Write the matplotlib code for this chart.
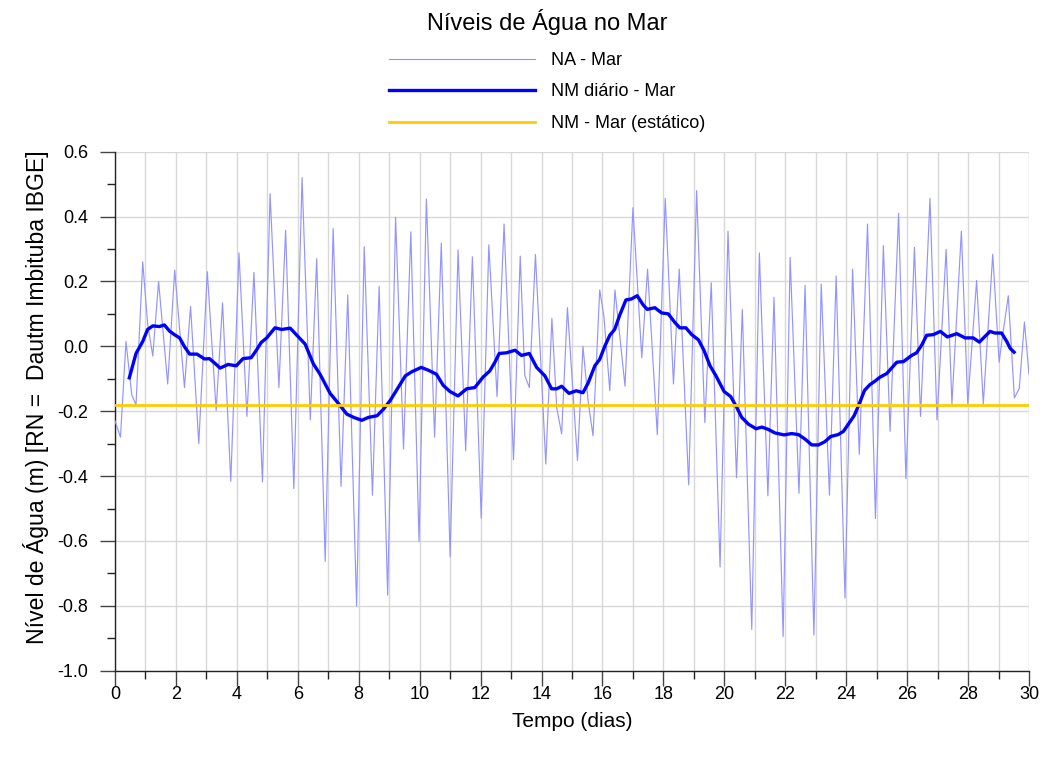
import matplotlib
matplotlib.use("Agg")
import matplotlib.pyplot as plt
from matplotlib.ticker import MultipleLocator, FormatStrFormatter

plt.rcParams['font.family'] = ['Liberation Sans', 'DejaVu Sans']
plt.rcParams['axes.unicode_minus'] = False

# ---- data ----
na_days = [0.00, 0.18, 0.36, 0.55, 0.69, 0.91, 1.07, 1.24, 1.43, 1.73, 1.96, 2.28, 2.48, 2.75,
           3.03, 3.32, 3.53, 3.80, 4.07, 4.33, 4.56, 4.84, 5.09, 5.38, 5.60, 5.87, 6.14, 6.41,
           6.62, 6.90, 7.16, 7.42, 7.64, 7.93, 8.18, 8.45, 8.67, 8.95, 9.21, 9.47, 9.71, 9.98,
           10.22, 10.49, 10.71, 11.00, 11.26, 11.51, 11.73, 12.02, 12.27, 12.54, 12.77, 13.08,
           13.30, 13.45, 13.60, 13.80, 14.14, 14.34, 14.50, 14.66, 14.85, 15.18, 15.36, 15.53,
           15.69, 15.91, 16.05, 16.24, 16.41, 16.74, 17.00, 17.29, 17.48, 17.80, 18.06, 18.33,
           18.52, 18.83, 19.09, 19.36, 19.57, 19.86, 20.12, 20.40, 20.59, 20.90, 21.15, 21.43,
           21.63, 21.93, 22.16, 22.45, 22.65, 22.94, 23.18, 23.45, 23.67, 23.96, 24.21, 24.43,
           24.70, 24.96, 25.22, 25.44, 25.72, 25.96, 26.24, 26.44, 26.75, 26.98, 27.28, 27.47,
           27.78, 27.99, 28.28, 28.50, 28.81, 29.02, 29.10, 29.32, 29.52, 29.68, 29.85, 30.00]
na_values = [-0.23, -0.28, 0.015, -0.15, -0.18, 0.26, 0.07, -0.03, 0.20, -0.116, 0.235, -0.127,
             0.123, -0.30, 0.23, -0.198, 0.134, -0.416, 0.288, -0.216, 0.228, -0.418, 0.47,
             -0.127, 0.358, -0.439, 0.52, -0.227, 0.27, -0.663, 0.363, -0.432, 0.158, -0.80,
             0.307, -0.459, 0.185, -0.767, 0.398, -0.317, 0.353, -0.602, 0.454, -0.28, 0.318,
             -0.648, 0.297, -0.322, 0.276, -0.53, 0.313, -0.155, 0.377, -0.35, 0.278, -0.09,
             -0.127, 0.283, -0.363, 0.086, -0.19, -0.27, 0.119, -0.352, 0.0, -0.17, -0.276,
             0.174, 0.09, -0.137, 0.174, -0.123, 0.427, -0.035, 0.238, -0.272, 0.456, -0.116,
             0.238, -0.427, 0.48, -0.235, 0.196, -0.68, 0.355, -0.405, 0.114, -0.873, 0.288,
             -0.461, 0.151, -0.895, 0.274, -0.453, 0.188, -0.89, 0.192, -0.459, 0.217, -0.776,
             0.238, -0.333, 0.377, -0.531, 0.31, -0.262, 0.41, -0.408, 0.305, -0.216, 0.456,
             -0.227, 0.299, -0.177, 0.355, -0.177, 0.203, -0.177, 0.284, -0.049, 0.01, 0.156,
             -0.159, -0.13, 0.075, -0.086]

nm_days = [0.47, 0.69, 0.91, 1.07, 1.24, 1.46, 1.62, 1.79, 1.95, 2.12, 2.28, 2.45, 2.69, 2.94,
           3.10, 3.30, 3.45, 3.71, 3.98, 4.20, 4.47, 4.64, 4.80, 4.98, 5.25, 5.47, 5.75, 6.02,
           6.24, 6.51, 6.73, 7.06, 7.34, 7.61, 7.83, 8.10, 8.32, 8.60, 8.82, 9.04, 9.25, 9.53,
           9.75, 10.05, 10.27, 10.55, 10.77, 10.99, 11.26, 11.54, 11.81, 12.08, 12.30, 12.47,
           12.61, 12.85, 13.13, 13.34, 13.60, 13.84, 14.11, 14.33, 14.50, 14.66, 14.90, 15.14,
           15.36, 15.53, 15.75, 15.91, 16.07, 16.24, 16.40, 16.57, 16.77, 16.95, 17.14, 17.34,
           17.47, 17.72, 17.94, 18.16, 18.38, 18.54, 18.74, 18.93, 19.15, 19.33, 19.53, 19.72,
           19.99, 20.21, 20.40, 20.57, 20.79, 21.04, 21.23, 21.44, 21.66, 21.96, 22.21, 22.43,
           22.65, 22.87, 23.09, 23.30, 23.49, 23.74, 23.91, 24.07, 24.26, 24.43, 24.60, 24.78,
           24.95, 25.11, 25.33, 25.49, 25.66, 25.88, 26.15, 26.31, 26.48, 26.64, 26.86, 27.09,
           27.32, 27.63, 27.90, 28.17, 28.37, 28.56, 28.72, 28.88, 29.10, 29.27, 29.38, 29.51]
nm_values = [-0.097, -0.022, 0.015, 0.052, 0.063, 0.061, 0.066, 0.047, 0.036, 0.026, -0.001,
             -0.024, -0.024, -0.039, -0.038, -0.054, -0.067, -0.056, -0.06, -0.038, -0.035,
             -0.012, 0.012, 0.026, 0.057, 0.052, 0.056, 0.029, 0.007, -0.054, -0.086, -0.145,
             -0.177, -0.209, -0.219, -0.228, -0.219, -0.214, -0.193, -0.166, -0.134, -0.091,
             -0.078, -0.065, -0.073, -0.086, -0.12, -0.139, -0.153, -0.131, -0.127, -0.095,
             -0.076, -0.049, -0.022, -0.02, -0.012, -0.028, -0.022, -0.065, -0.091, -0.131,
             -0.131, -0.123, -0.145, -0.137, -0.143, -0.113, -0.06, -0.04, -0.001, 0.034,
             0.052, 0.097, 0.143, 0.146, 0.156, 0.127, 0.114, 0.119, 0.103, 0.1, 0.073, 0.057,
             0.057, 0.036, 0.02, -0.012, -0.06, -0.09, -0.139, -0.155, -0.187, -0.219, -0.24,
             -0.254, -0.249, -0.256, -0.267, -0.273, -0.269, -0.272, -0.286, -0.304, -0.304,
             -0.294, -0.278, -0.272, -0.262, -0.24, -0.214, -0.177, -0.136, -0.118, -0.107,
             -0.095, -0.084, -0.067, -0.049, -0.047, -0.028, -0.02, 0.004, 0.034, 0.036, 0.046,
             0.029, 0.039, 0.026, 0.026, 0.013, 0.031, 0.046, 0.041, 0.041, 0.015, -0.006,
             -0.018]

nm_static_days = [0, 30]
nm_static_values = [-0.18, -0.18]

labels = ['NA - Mar', 'NM diário - Mar', 'NM - Mar (estático)']
title = 'Níveis de Água no Mar'
xlabel = 'Tempo (dias)'
ylabel = 'Nível de Água (m) [RN =  Dautm Imbituba IBGE]'

# ---- figure ----
W, H = 1045, 758
fig = plt.figure(figsize=(W / 100, H / 100), dpi=100)
ax = fig.add_axes([115 / W, 1 - 670.7 / H, (1029 - 115) / W, (670.7 - 151.7) / H])

l1, = ax.plot(na_days, na_values, color='#9494ff', lw=0.85, zorder=3)
l2, = ax.plot(nm_days, nm_values, color='#0000ff', lw=2.4, zorder=4)
l3, = ax.plot(nm_static_days, nm_static_values, color='#ffcc00', lw=2.0, zorder=5)

ax.set_xlim(0, 30)
ax.set_ylim(-1.0, 0.6)
ax.xaxis.set_major_locator(MultipleLocator(2))
ax.xaxis.set_minor_locator(MultipleLocator(1))
ax.yaxis.set_major_locator(MultipleLocator(0.2))
ax.yaxis.set_minor_locator(MultipleLocator(0.1))
ax.yaxis.set_major_formatter(FormatStrFormatter('%.1f'))

ax.grid(True, which='major', axis='both', color='#d8d8d8', lw=1.0, zorder=0)
ax.grid(True, which='minor', axis='x', color='#d8d8d8', lw=1.0, zorder=0)
ax.set_axisbelow(True)

for s in ['top', 'right']:
    ax.spines[s].set_visible(False)
for s in ['left', 'bottom']:
    ax.spines[s].set_color('#222222')
    ax.spines[s].set_linewidth(1.0)

ax.tick_params(which='major', direction='out', length=10.8, width=1.0, color='#444444',
               labelsize=13)
ax.tick_params(which='minor', direction='out', length=5.8, width=1.0, color='#222222')
ax.tick_params(axis='x', which='major', pad=0.5)
ax.tick_params(axis='y', which='major', pad=8.5)

ax.set_xlabel(xlabel, fontsize=15, labelpad=6)
ax.set_ylabel(ylabel, fontsize=16.6)
ax.yaxis.set_label_coords((49 - 115) / 914, (670.7 - 397.5) / 519)

fig.text(547 / W, 1 - 22 / H, title, ha='center', va='center', fontsize=17)

fig.legend([l1, l2, l3], labels, loc='center left',
           bbox_to_anchor=(389 / W, 1 - 92 / H), frameon=False, fontsize=13,
           handlelength=8.1, handletextpad=0.85, labelspacing=0.8,
           borderpad=0, borderaxespad=0)

fig.savefig('out.png', dpi=100)
